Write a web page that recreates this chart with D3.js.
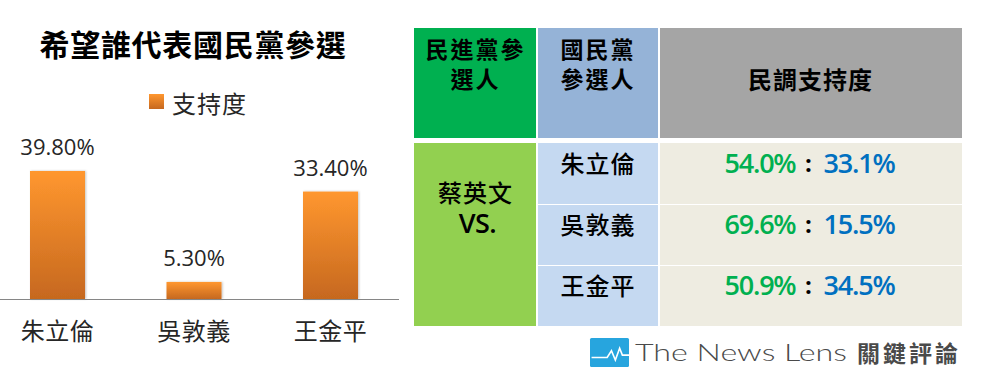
<!DOCTYPE html>
<html><head><meta charset="utf-8">
<script src="https://cdn.jsdelivr.net/npm/d3@7"></script>
<style>
html,body{margin:0;padding:0;background:#fff;}
svg{display:block;}
</style></head>
<body>
<svg id="c" width="981" height="381"></svg>
<script>
// ---- data ----
const chartTitle = "希望誰代表國民黨參選";
const legendLabel = "支持度";
const candidates = ["朱立倫", "吳敦義", "王金平"];
const support = [0.398, 0.053, 0.334];
const supportLabels = ["39.80%", "5.30%", "33.40%"];
const headerDpp = ["民進黨參", "選人"];
const headerKmt = ["國民黨", "參選人"];
const headerPoll = "民調支持度";
const dppCandidate = "蔡英文";
const vsLabel = "VS.";
const tsaiShare = ["54.0%", "69.6%", "50.9%"];
const kmtShare = ["33.1%", "15.5%", "34.5%"];
const logoText = "The News Lens";
const logoCjk = "關鍵評論";

const svg = d3.select("#c");
const CJK = "'Noto Sans CJK TC','Noto Sans CJK SC',sans-serif";
const NUM = "'Open Sans','Noto Sans',sans-serif";

// ---- defs ----
const defs = svg.append("defs");
const g1 = defs.append("linearGradient").attr("id","barGrad").attr("x1",0).attr("y1",0).attr("x2",0).attr("y2",1);
g1.append("stop").attr("offset","0%").attr("stop-color","#FF972F");
g1.append("stop").attr("offset","100%").attr("stop-color","#C6681F");
const f = defs.append("filter").attr("id","shadow").attr("x","-20%").attr("y","-20%").attr("width","140%").attr("height","140%");
f.append("feDropShadow").attr("dx",1).attr("dy",0).attr("stdDeviation",1).attr("flood-color","#000").attr("flood-opacity",0.25);

// ---- left bar chart ----
const rows = candidates.map((c,i)=>({name:c, v:support[i], label:supportLabels[i]}));
const x = d3.scaleBand().domain(candidates).range([-10.75, 398.75]).paddingInner(0.597).paddingOuter(0.2985);
const y = d3.scaleLinear().domain([0, 0.45]).range([299, 299 - 0.45*321.6]);

svg.append("text").attr("x", 193).attr("y", 56).attr("text-anchor","middle")
  .attr("font-family", CJK).attr("font-weight","bold").attr("font-size",30)
  .attr("letter-spacing",0.7).attr("fill","#000").text(chartTitle);

// legend
svg.append("rect").attr("x",149).attr("y",94).attr("width",15).attr("height",15).attr("fill","url(#barGrad)");
svg.append("text").attr("x",172).attr("y",102).attr("dominant-baseline","central")
  .attr("font-family", CJK).attr("font-size",24).attr("letter-spacing",1).attr("fill","#262626").text(legendLabel);

svg.append("g").selectAll("rect").data(rows).join("rect")
  .attr("x", d=>x(d.name)).attr("width", x.bandwidth())
  .attr("y", d=>y(d.v)).attr("height", d=>y(0)-y(d.v))
  .attr("fill","url(#barGrad)").attr("filter","url(#shadow)");

// axis
const xAxis = d3.axisBottom(x).tickSize(0).tickPadding(0);
const ax = svg.append("g").attr("transform",`translate(0,${y(0)})`).call(xAxis);
ax.select(".domain").attr("d","M0,0.5H399").attr("stroke","#868686").attr("stroke-width",1.2);
ax.selectAll(".tick text").attr("y",41).attr("dy",0)
  .attr("font-family",CJK).attr("font-size",24).attr("fill","#262626").attr("letter-spacing",0.5);

svg.append("g").selectAll("text").data(rows).join("text")
  .attr("x", d=>x(d.name)+x.bandwidth()/2).attr("y", d=>y(d.v)-16)
  .attr("text-anchor","middle").attr("font-family",NUM).attr("font-size",22).attr("fill","#262626")
  .text(d=>d.label);

// ---- right table ----
const colEdges = [414, 537, 659, 962];
const headTop = 28, headBot = 138, bodyTop = 143, bodyBot = 326;
const rowY = d3.scaleBand().domain(candidates).range([bodyTop, bodyBot]);
const T = svg.append("g");
// header cells
const headFill = ["#00B050", "#95B3D7", "#A5A5A5"];
headFill.forEach((c,i)=>{
  T.append("rect").attr("x",colEdges[i]+(i?1:0)).attr("y",headTop)
   .attr("width",colEdges[i+1]-colEdges[i]-(i?1:0)-(i<2?1:0)).attr("height",headBot-headTop).attr("fill",c);
});
// body col1 merged
T.append("rect").attr("x",colEdges[0]).attr("y",bodyTop).attr("width",colEdges[1]-colEdges[0]-1)
  .attr("height",bodyBot-bodyTop).attr("fill","#92D050");
candidates.forEach((c,i)=>{
  const y0 = rowY(c), h = rowY.bandwidth();
  T.append("rect").attr("x",colEdges[1]+1).attr("y",y0+(i?1:0)).attr("width",colEdges[2]-colEdges[1]-2)
   .attr("height",h-(i?1:0)).attr("fill","#C5D9F1");
  T.append("rect").attr("x",colEdges[2]+1).attr("y",y0+(i?1:0)).attr("width",colEdges[3]-colEdges[2]-1)
   .attr("height",h-(i?1:0)).attr("fill","#EEECE1");
});
const cx = i => (colEdges[i]+colEdges[i+1])/2;
// header text
headerDpp.forEach((t,i)=>T.append("text").attr("x",cx(0)).attr("y",48+i*30).attr("dominant-baseline","central")
  .attr("text-anchor","middle").attr("font-family",CJK).attr("font-weight","bold").attr("font-size",23)
  .attr("letter-spacing",2).attr("fill","#000").text(t));
headerKmt.forEach((t,i)=>T.append("text").attr("x",cx(1)).attr("y",48+i*30).attr("dominant-baseline","central")
  .attr("text-anchor","middle").attr("font-family",CJK).attr("font-weight","bold").attr("font-size",23)
  .attr("letter-spacing",2).attr("fill","#000").text(t));
T.append("text").attr("x",cx(2)).attr("y",78).attr("dominant-baseline","central")
  .attr("text-anchor","middle").attr("font-family",CJK).attr("font-weight","bold").attr("font-size",24)
  .attr("letter-spacing",1).attr("fill","#000").text(headerPoll);
// body col1
T.append("text").attr("x",cx(0)).attr("y",191).attr("dominant-baseline","central")
  .attr("text-anchor","middle").attr("font-family",CJK).attr("font-weight",500).attr("font-size",24)
  .attr("letter-spacing",1).attr("fill","#000").text(dppCandidate);
T.append("text").attr("x",cx(0)+2).attr("y",222).attr("dominant-baseline","central")
  .attr("text-anchor","middle").attr("font-family",NUM).attr("font-weight",600).attr("font-size",27)
  .attr("letter-spacing",-0.5).attr("fill","#000").text(vsLabel);
// body rows
candidates.forEach((c,i)=>{
  const yc = rowY(c) + 19;
  T.append("text").attr("x",cx(1)).attr("y",yc).attr("dominant-baseline","central")
   .attr("text-anchor","middle").attr("font-family",CJK).attr("font-weight",500).attr("font-size",24)
   .attr("letter-spacing",1).attr("fill","#000").text(c);
  T.append("text").attr("x",cx(2)-15).attr("y",yc).attr("dominant-baseline","central")
   .attr("text-anchor","end").attr("font-family",NUM).attr("font-weight",600).attr("font-size",27)
   .attr("letter-spacing",-1.2).attr("fill","#00B050").text(tsaiShare[i]);
  T.append("text").attr("x",cx(2)-2).attr("y",yc).attr("dominant-baseline","central")
   .attr("text-anchor","middle").attr("font-family",NUM).attr("font-weight","bold").attr("font-size",24).attr("fill","#000").text(":");
  T.append("text").attr("x",cx(2)+13).attr("y",yc).attr("dominant-baseline","central")
   .attr("text-anchor","start").attr("font-family",NUM).attr("font-weight",600).attr("font-size",27)
   .attr("letter-spacing",-1.2).attr("fill","#0070C0").text(kmtShare[i]);
});

// ---- logo ----
const L = svg.append("g").attr("transform","translate(590,338)");
const lw = 39, lh = 29;
L.append("rect").attr("width",lw).attr("height",lh).attr("rx",1.5).attr("fill","#27A5DE");
const pulse = [[0.04,0.67],[0.44,0.67],[0.55,0.44],[0.65,0.76],[0.76,0.35],[0.83,0.59],[1.0,0.59]];
L.append("path").attr("d", d3.line()(pulse.map(p=>[p[0]*lw,p[1]*lh])))
  .attr("fill","none").attr("stroke","#fff").attr("stroke-width",1.6);
svg.append("text").attr("x",635).attr("y",361).attr("font-family","Lato,'DejaVu Sans',sans-serif")
  .attr("font-weight",300).attr("font-size",24).attr("fill","#4a4a4a").attr("textLength",212)
  .attr("lengthAdjust","spacingAndGlyphs").text(logoText);
svg.append("text").attr("x",857).attr("y",352).attr("dominant-baseline","central").attr("font-family",CJK)
  .attr("font-weight","bold").attr("font-size",23).attr("fill","#4a4a4a").attr("textLength",101).text(logoCjk);
</script>
</body></html>
